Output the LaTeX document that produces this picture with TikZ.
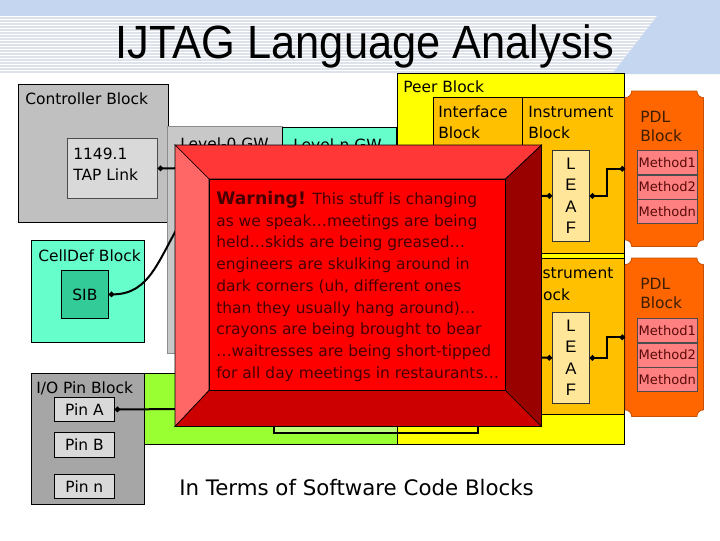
\documentclass[tikz,border=0pt]{standalone}
\usepackage{fontspec}
\setmainfont{DejaVu Sans}
\newfontfamily\arialfont{Liberation Sans}
\newfontfamily\titlefont[FakeStretch=0.93]{Liberation Sans}
\usepackage{tikz}
\usetikzlibrary{arrows.meta, positioning}
\definecolor{hdrblue}{RGB}{197,214,240}
\definecolor{stripegray}{RGB}{222,226,234}
\definecolor{ctrlgray}{RGB}{192,192,192}
\definecolor{tapgray}{RGB}{217,217,217}
\definecolor{gwgray}{RGB}{200,200,200}
\definecolor{pingray}{RGB}{166,166,166}
\definecolor{aqua}{RGB}{102,255,204}
\definecolor{sibteal}{RGB}{51,204,153}
\definecolor{peeryellow}{RGB}{255,255,0}
\definecolor{instrorange}{RGB}{255,192,0}
\definecolor{leafcream}{RGB}{255,230,153}
\definecolor{pdlorange}{RGB}{255,102,0}
\definecolor{pdledge}{RGB}{200,80,0}
\definecolor{pdltext}{RGB}{60,30,0}
\definecolor{methodpink}{RGB}{255,128,128}
\definecolor{methodtext}{RGB}{90,10,10}
\definecolor{limegreen}{RGB}{153,255,51}
\definecolor{warnface}{RGB}{255,0,0}
\definecolor{bevtop}{RGB}{255,55,55}
\definecolor{bevleft}{RGB}{255,102,102}
\definecolor{bevbottom}{RGB}{204,0,0}
\definecolor{bevright}{RGB}{153,0,0}
\definecolor{warntext}{RGB}{70,0,0}

\newlength\px
\setlength\px{0.75pt}

% ticket-like outline with hollow corners around a node
\newcommand\pdlshape[1]{%
  \draw[fill=pdlorange, draw=pdledge, line width=0.6pt]
    ([xshift=5pt]#1.north west) -- ([xshift=-5pt]#1.north east)
    .. controls ([xshift=-5pt,yshift=-2.8pt]#1.north east) and ([xshift=-2.8pt,yshift=-5pt]#1.north east) .. ([yshift=-5pt]#1.north east)
    -- ([yshift=5pt]#1.south east)
    .. controls ([xshift=-2.8pt,yshift=5pt]#1.south east) and ([xshift=-5pt,yshift=2.8pt]#1.south east) .. ([xshift=-5pt]#1.south east)
    -- ([xshift=5pt]#1.south west)
    .. controls ([xshift=5pt,yshift=2.8pt]#1.south west) and ([xshift=2.8pt,yshift=5pt]#1.south west) .. ([yshift=5pt]#1.south west)
    -- ([yshift=-5pt]#1.north west)
    .. controls ([xshift=2.8pt,yshift=-5pt]#1.north west) and ([xshift=5pt,yshift=-2.8pt]#1.north west) .. ([xshift=5pt]#1.north west)
    -- cycle;}

\begin{document}
\begin{tikzpicture}[
    x=0.75pt, y=-0.75pt,
    node distance=0pt,
    corner/.style={anchor=north west},
    blk/.style={draw=black, line width=0.6pt, inner sep=0pt, corner},
    txt/.style={font=\fontsize{11.6}{16}\selectfont},
    lbl/.style={txt, inner sep=0pt, align=left},
    method/.style={draw=black!70, line width=0.5pt, fill=methodpink, minimum width=60\px,
                   minimum height=24\px, inner sep=0pt, text=methodtext, font=\fontsize{9.8}{11}\selectfont},
    leaf/.style={blk, fill=leafcream, draw=black!80, minimum width=37\px, minimum height=91\px,
                 align=center, font=\arialfont\fontsize{12.5}{16.1}\selectfont},
    pin/.style={blk, fill=tapgray, minimum width=60\px, txt},
    conn/.style={line width=1.5pt, black},
    bevel/.style={draw=black, line width=0.5pt},
]
\useasboundingbox (0,0) rectangle (720,540);
\fill[white] (0,0) rectangle (720,540);

% header band
\fill[hdrblue] (0,0) rectangle (720,16);
\fill[hdrblue] (657,16) -- (720,16) -- (720,74) -- (612,74) -- cycle;
\begin{scope}
  \clip (0,16) -- (657,16) -- (612,74) -- (0,74) -- cycle;
  \foreach \y in {18,21,...,73}
    \draw[stripegray, line width=0.8pt] (0,\y) -- (720,\y);
\end{scope}
\node[anchor=base, inner sep=0pt, font=\titlefont\fontsize{35}{38}\selectfont] (title) at (365,58) {IJTAG Language Analysis};

% controller side
\node[blk, fill=ctrlgray, minimum width=150\px, minimum height=138\px] (ctrl) at (18,84) {};
\node[lbl, anchor=base west] (ctrl-lbl) at (25,104.5) {Controller Block};
\node[blk, fill=tapgray, draw=black!70, minimum width=90\px, minimum height=60\px] (tap) at (67,138) {};
\node[lbl, anchor=west] (tap-lbl) at (73,164) {1149.1\\TAP Link};

\node[blk, fill=gwgray, draw=black!45, minimum width=115\px, minimum height=227\px] (gw0) at (167,126) {};
\node[lbl, anchor=base west] (gw0-lbl) at (180,149.5) {Level-0 GW};
\node[blk, fill=aqua, minimum width=114\px, minimum height=226\px] (gwn) at (282,127) {};
\node[lbl, anchor=base west] (gwn-lbl) at (293,150.5) {Level-n GW};

% peer block
\node[blk, fill=peeryellow, minimum width=227\px, minimum height=371\px] (peer) at (397,73) {};
\node[lbl, anchor=base west] (peer-lbl) at (403,92.6) {Peer Block};
\node[blk, fill=instrorange, minimum width=89\px, minimum height=156\px] (intf) at (433,97) {};
\node[lbl, anchor=west] (intf-lbl) at (438,122.2) {Interface\\Block};
\node[blk, fill=instrorange, minimum width=102\px, minimum height=156\px] (instr1) at (522,97) {};
\node[lbl, anchor=west] (instr1-lbl) at (528,122.2) {Instrument\\Block};
\node[blk, fill=instrorange, minimum width=102\px, minimum height=156\px] (instr2) at (522,258) {};
\node[lbl, anchor=west] (instr2-lbl) at (528,283.8) {Instrument\\Block};
\node[leaf] (leaf1) at (552,150) {L\\E\\A\\F};
\node[leaf] (leaf2) at (552,312) {L\\E\\A\\F};

% PDL blocks
\node[corner, inner sep=0pt, minimum width=78\px, minimum height=155\px] (pdl1) at (625,91) {};
\pdlshape{pdl1}
\node[lbl, anchor=west, text=pdltext, font=\fontsize{11.6}{14.3}\selectfont] (pdl1-lbl) at (640,126.2) {PDL\\Block};
\node[method, corner] (m11) at (637,150) {Method1};
\node[method, below=of m11] (m12) {Method2};
\node[method, below=of m12] (m1n) {Methodn};

\node[corner, inner sep=0pt, minimum width=78\px, minimum height=158\px] (pdl2) at (625,258) {};
\pdlshape{pdl2}
\node[lbl, anchor=west, text=pdltext, font=\fontsize{11.6}{14.3}\selectfont] (pdl2-lbl) at (640,293) {PDL\\Block};
\node[method, corner] (m21) at (637,318) {Method1};
\node[method, below=of m21] (m22) {Method2};
\node[method, below=of m22] (m2n) {Methodn};

% cell and pins
\node[blk, fill=aqua, minimum width=113\px, minimum height=102\px] (cell) at (31,240) {};
\node[lbl, anchor=base west] (cell-lbl) at (38,261.6) {CellDef Block};
\node[blk, fill=sibteal, minimum width=47\px, minimum height=48\px, txt] (sib) at (61,270) {SIB};

\node[blk, fill=limegreen, minimum width=253\px, minimum height=71\px] (lime) at (144,373) {};
\fill[limegreen!65!white] (273,380) rectangle (397,432);
\node[blk, line width=1.5pt, minimum width=204\px, minimum height=52\px] (frame) at (273,380) {};

\node[blk, fill=pingray, minimum width=113\px, minimum height=131\px] (io) at (31,373) {};
\node[lbl, anchor=base west] (io-lbl) at (36,393.6) {I/O Pin Block};
\node[pin, minimum height=24\px] (pina) at (54,397) {Pin A};
\node[pin, minimum height=25\px] (pinb) at (54,432) {Pin B};
\node[pin, minimum height=24\px] (pinn) at (54,474) {Pin n};

% connectors
\coordinate (tap-end) at (200,168);
\coordinate (sib-end) at (182,220);
\coordinate (pina-end) at (200,409);
\coordinate (leaf1-in) at (525,195.5);
\coordinate (leaf2-in) at (525,357);
\draw[conn, {Circle[length=4pt]}-] (tap.east) -- (tap-end);
\draw[conn, {Circle[length=4pt]}-] (sib.east) .. controls (150,294) and (158,260) .. (sib-end);
\draw[conn, {Circle[length=4pt]}-] (pina.east) -- (pina-end);
\draw[conn, -{Circle[length=4pt]}] (leaf1-in) -- (leaf1.west);
\draw[conn, -{Circle[length=4pt]}] (leaf2-in) -- (leaf2.west);
\draw[conn, {Circle[length=4pt]}-{Circle[length=4pt]}] (leaf1.east) -- ++(17,0) |- (pdl1.west);
\draw[conn, {Circle[length=4pt]}-{Circle[length=4pt]}] (leaf2.east) -- ++(17,0) |- (pdl2.west);

% warning box
\node[corner, inner sep=0pt, minimum width=366\px, minimum height=281\px] (warn-out) at (175,145) {};
\node[corner, inner sep=0pt, minimum width=296\px, minimum height=211\px] (warn-in) at (209,179) {};
\filldraw[bevel, fill=bevtop] (warn-out.north west) -- (warn-out.north east) -- (warn-in.north east) -- (warn-in.north west) -- cycle;
\filldraw[bevel, fill=bevleft] (warn-out.north west) -- (warn-in.north west) -- (warn-in.south west) -- (warn-out.south west) -- cycle;
\filldraw[bevel, fill=bevbottom] (warn-out.south west) -- (warn-in.south west) -- (warn-in.south east) -- (warn-out.south east) -- cycle;
\filldraw[bevel, fill=bevright] (warn-out.north east) -- (warn-out.south east) -- (warn-in.south east) -- (warn-in.north east) -- cycle;
\filldraw[bevel, fill=warnface] (warn-in.north west) rectangle (warn-in.south east);
\node[anchor=north west, inner sep=0pt, align=left, text=warntext, font=\fontsize{11.6}{16.3}\selectfont] (warn-txt) at (216,191)
  {{\fontsize{13}{16.3}\selectfont\bfseries Warning!} This stuff is changing\\
   as we speak…meetings are being\\
   held…skids are being greased…\\
   engineers are skulking around in\\
   dark corners (uh, different ones\\
   than they usually hang around)…\\
   crayons are being brought to bear\\
   …waitresses are being short-tipped\\
   for all day meetings in restaurants…};

\node[anchor=base west, inner sep=0pt, font=\fontsize{16}{19}\selectfont] (caption) at (179,495) {In Terms of Software Code Blocks};
\end{tikzpicture}
\end{document}
